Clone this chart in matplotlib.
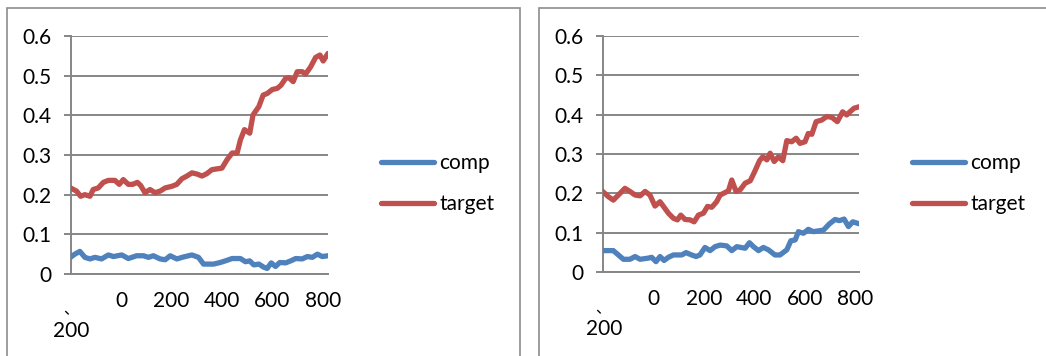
import matplotlib
matplotlib.use("Agg")
import matplotlib.pyplot as plt
from matplotlib.patches import Rectangle

plt.rcParams['font.family'] = ['Lato', 'DejaVu Sans']

# ---- data: left panel ----
left_target_x = [-200, -176, -160, -143, -123, -110, -90, -70, -50, -24, -7, 9, 29, 46, 65, 78, 95,
                 115, 135, 155, 175, 201, 221, 241, 261, 281, 301, 321, 340, 360, 380, 400, 420,
                 440, 460, 473, 489, 510, 523, 546, 563, 579, 599, 619, 634, 652, 665, 682, 698,
                 718, 731, 751, 771, 788, 801, 820]
left_target_y = [0.217, 0.209, 0.196, 0.200, 0.196, 0.213, 0.217, 0.231, 0.236, 0.236, 0.226, 0.238,
                 0.226, 0.226, 0.231, 0.223, 0.205, 0.213, 0.205, 0.209, 0.217, 0.221, 0.226, 0.240,
                 0.247, 0.255, 0.252, 0.247, 0.253, 0.263, 0.265, 0.267, 0.288, 0.305, 0.305, 0.338,
                 0.364, 0.355, 0.401, 0.422, 0.451, 0.455, 0.465, 0.468, 0.476, 0.493, 0.495, 0.485,
                 0.510, 0.510, 0.504, 0.522, 0.546, 0.552, 0.537, 0.556]
left_comp_x = [-200, -183, -163, -143, -123, -103, -77, -50, -30, 3, 29, 62, 89, 109, 128, 155, 175,
               195, 221, 248, 281, 307, 327, 367, 393, 413, 440, 473, 493, 510, 526, 546, 566, 579,
               595, 612, 629, 652, 672, 692, 718, 738, 758, 778, 797, 820]
left_comp_y = [0.042, 0.050, 0.057, 0.042, 0.038, 0.042, 0.038, 0.048, 0.044, 0.048, 0.039, 0.046,
               0.046, 0.042, 0.046, 0.038, 0.036, 0.046, 0.038, 0.043, 0.048, 0.042, 0.025, 0.025,
               0.029, 0.033, 0.039, 0.039, 0.031, 0.033, 0.023, 0.025, 0.017, 0.014, 0.028, 0.019,
               0.029, 0.028, 0.033, 0.039, 0.038, 0.044, 0.042, 0.050, 0.044, 0.046]

# ---- data: right panel ----
right_target_x = [-200, -178, -158, -138, -112, -92, -72, -52, -32, -13, 7, 27, 43, 60, 80, 96, 109,
                  126, 146, 162, 179, 199, 215, 232, 251, 265, 284, 298, 311, 328, 344, 364, 384,
                  400, 421, 434, 450, 463, 479, 496, 513, 529, 548, 566, 581, 601, 614, 628, 645,
                  667, 687, 707, 729, 750, 766, 779, 795, 816]
right_target_y = [0.205, 0.192, 0.183, 0.196, 0.213, 0.205, 0.196, 0.194, 0.205, 0.196, 0.168, 0.179,
                  0.165, 0.150, 0.137, 0.133, 0.145, 0.134, 0.133, 0.128, 0.145, 0.150, 0.167, 0.165,
                  0.179, 0.196, 0.202, 0.207, 0.234, 0.205, 0.209, 0.226, 0.232, 0.253, 0.283, 0.293,
                  0.285, 0.302, 0.281, 0.293, 0.283, 0.334, 0.331, 0.340, 0.327, 0.331, 0.352, 0.350,
                  0.382, 0.386, 0.395, 0.393, 0.382, 0.407, 0.399, 0.407, 0.416, 0.420]
right_comp_x = [-200, -158, -138, -118, -92, -72, -52, -19, -6, 11, 27, 43, 60, 80, 113, 130, 152,
                170, 185, 205, 225, 245, 265, 291, 311, 331, 364, 381, 397, 417, 436, 456, 482, 502,
                529, 545, 562, 575, 595, 614, 634, 674, 698, 720, 737, 756, 773, 790, 816]
right_comp_y = [0.055, 0.055, 0.044, 0.033, 0.033, 0.040, 0.033, 0.036, 0.038, 0.027, 0.040, 0.030,
                0.038, 0.044, 0.044, 0.050, 0.044, 0.040, 0.044, 0.063, 0.055, 0.065, 0.069, 0.067,
                0.055, 0.065, 0.061, 0.075, 0.065, 0.055, 0.063, 0.057, 0.044, 0.044, 0.057, 0.080,
                0.082, 0.103, 0.099, 0.109, 0.103, 0.107, 0.123, 0.134, 0.131, 0.135, 0.116, 0.128,
                0.123]

series_names = ["comp", "target"]
x_tick_values = [-200, 0, 200, 400, 600, 800]
x_tick_labels = ["", "0", "200", "400", "600", "800"]
y_tick_values = [0, 0.1, 0.2, 0.3, 0.4, 0.5, 0.6]
y_tick_labels = ["0", "0.1", "0.2", "0.3", "0.4", "0.5", "0.6"]

BLUE = "#4F81BD"
RED = "#C0504D"
GRID = "#868686"
FS = 15

W, H = 1046, 356
fig = plt.figure(figsize=(W / 100, H / 100), dpi=100)

# chart frames
for x0, x1 in [(6.5, 519.5), (538.5, 1060)]:
    fig.add_artist(Rectangle((x0 / W, -0.1), (x1 - x0) / W, (H - 7.5) / H + 0.1,
                             transform=fig.transFigure, fill=False,
                             edgecolor="#8c8c8c", linewidth=1.2))


def panel(rect, comp_x, comp_y, targ_x, targ_y, xmax, legend_xy):
    ax = fig.add_axes(rect)
    ax.plot(comp_x, comp_y, color=BLUE, lw=3.8, solid_capstyle='round',
            solid_joinstyle='round', label=series_names[0], zorder=3)
    ax.plot(targ_x, targ_y, color=RED, lw=3.8, solid_capstyle='round',
            solid_joinstyle='round', label=series_names[1], zorder=3)
    ax.set_xlim(-200, xmax)
    ax.set_ylim(0, 0.6)
    for s in ['top', 'right']:
        ax.spines[s].set_visible(False)
    for s in ['left', 'bottom']:
        ax.spines[s].set_color(GRID)
        ax.spines[s].set_linewidth(1.4)
    ax.set_yticks(y_tick_values)
    ax.set_yticklabels(y_tick_labels)
    ax.yaxis.grid(True, color=GRID, lw=1.4)
    ax.set_axisbelow(True)
    ax.tick_params(axis='y', length=5, width=1.4, color=GRID, pad=9, labelsize=FS)
    ax.set_xticks(x_tick_values)
    ax.set_xticklabels(x_tick_labels)
    ax.tick_params(axis='x', which='major', length=0, pad=12, labelsize=FS)
    ax.set_xticks([-200, 200, 600], minor=True)
    ax.tick_params(axis='x', which='minor', length=5, width=1.4, color=GRID)
    # two-line label for -200
    ax.annotate("、", xy=(-200, 0), xycoords='data', xytext=(0, -36),
                textcoords='offset pixels', ha='center', va='center',
                fontsize=FS - 4, family=['Noto Sans CJK SC', 'DejaVu Sans'])
    ax.annotate("200", xy=(-200, 0), xycoords='data', xytext=(1, -57),
                textcoords='offset pixels', ha='center', va='center', fontsize=FS)
    ax.legend(loc='center left', bbox_to_anchor=legend_xy, bbox_transform=fig.transFigure,
              frameon=False, fontsize=FS, handlelength=2.55, handletextpad=0.25,
              labelspacing=1.0, borderaxespad=0, borderpad=0)
    return ax


panel([70.5 / W, 1 - 274 / H, 257.5 / W, 238 / H],
      left_comp_x, left_comp_y, left_target_x, left_target_y, 820,
      (381 / W, 1 - 183.5 / H))
panel([602.7 / W, 1 - 272.3 / H, 256.6 / W, 236.6 / H],
      right_comp_x, right_comp_y, right_target_x, right_target_y, 816,
      (912 / W, 1 - 183.5 / H))

fig.savefig("out.png", dpi=100)
